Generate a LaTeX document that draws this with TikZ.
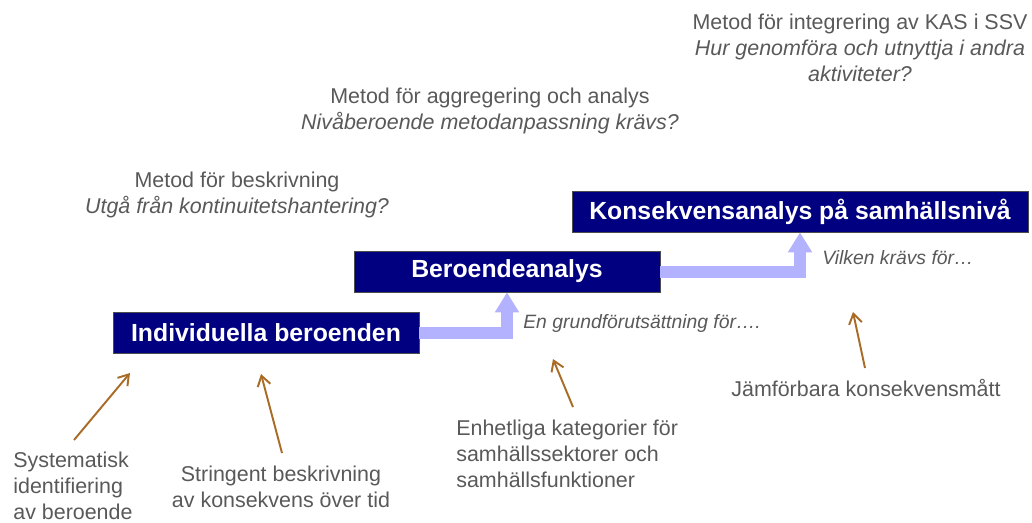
\documentclass[tikz,border=0pt]{standalone}
\usepackage{fontspec}
\setmainfont{Liberation Sans}
\usetikzlibrary{arrows.meta}
\definecolor{navybox}{RGB}{0,0,128}
\definecolor{flowblue}{RGB}{178,178,255}
\definecolor{notegray}{RGB}{89,89,89}
\definecolor{hintbrown}{RGB}{168,108,38}
\tikzset{
  stagebox/.style={draw=black!70, fill=navybox, text=white, font=\fontsize{14.1}{17}\selectfont\bfseries, minimum height=0.82cm, inner sep=0pt},
  flow/.style={draw=flowblue, line width=0.24cm, -{Triangle[width=0.46cm,length=0.4cm]}},
  note/.style={text=notegray, font=\fontsize{12.2}{14.8}\selectfont, inner sep=0pt},
  hint/.style={text=notegray, font=\fontsize{11}{13}\selectfont\itshape, inner sep=0pt, anchor=west},
  pointer/.style={draw=hintbrown, line width=1.1pt, -{Straight Barb[length=0.2cm,width=0.26cm]}}
}
\begin{document}
\begin{tikzpicture}[x=0.02cm,y=-0.02cm]
\useasboundingbox (0,0) rectangle (1032,522);
% the three stages
\node[stagebox, minimum width=6.12cm] (indiv) at (266,332.5) {Individuella beroenden};
\node[stagebox, minimum width=6.12cm] (beroende) at (507,271.5) {Beroendeanalys};
\node[stagebox, minimum width=9.12cm] (konsek) at (800,211.5) {Konsekvensanalys på samhällsnivå};
\draw[flow] (indiv.east) -| (beroende.south);
\draw[flow] (beroende.east) -| (konsek.south);
% method questions above
\node[note, align=center] (metodint) at (860,48) {Metod för integrering av KAS i SSV\\\textit{Hur genomföra och utnyttja i andra}\\\textit{aktiviteter?}};
\node[note, align=center] (metodagg) at (490,110.5) {Metod för aggregering och analys\\\textit{Nivåberoende metodanpassning krävs?}};
\node[note, align=center] (metodbes) at (237,195) {Metod för beskrivning\\\textit{Utgå från kontinuitetshantering?}};
\node[hint] (grund) at (523,323) {En grundförutsättning för….};
\node[hint] (vilken) at (822,258) {Vilken krävs för…};
% requirements below
\node[note] (jamfor) at (866,388) {Jämförbara konsekvensmått};
\node[note, align=left, anchor=west] (enhet) at (456,454) {Enhetliga kategorier för\\samhällssektorer och\\samhällsfunktioner};
\node[note, align=center] (string) at (281,487) {Stringent beskrivning\\av konsekvens över tid};
\node[note, align=left, anchor=west] (system) at (13,486) {Systematisk\\identifiering\\av beroende};
\coordinate (systemfoot) at (74,440);
\coordinate (systemtip) at (130,373);
\coordinate (stringfoot) at (282,453);
\coordinate (stringtip) at (261,374);
\coordinate (enhetfoot) at (573,407);
\coordinate (enhettip) at (553,359);
\coordinate (jamforfoot) at (865,368);
\coordinate (jamfortip) at (853,312);
\foreach \k in {system,string,enhet,jamfor}
  \draw[pointer] (\k foot) -- (\k tip);
\end{tikzpicture}
\end{document}
